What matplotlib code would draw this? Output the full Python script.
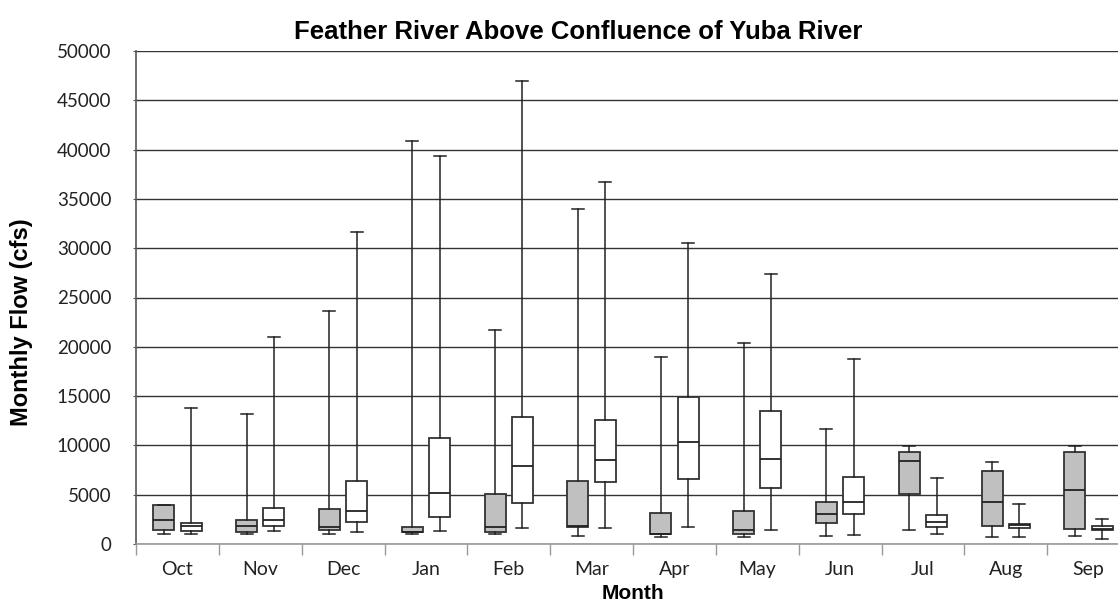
import matplotlib
matplotlib.use("Agg")
import matplotlib.pyplot as plt
from matplotlib.ticker import FixedLocator, NullFormatter

months = ["Oct", "Nov", "Dec", "Jan", "Feb", "Mar", "Apr", "May", "Jun", "Jul", "Aug", "Sep"]

# Series A (grey boxes)
a_min = [980, 980, 980, 980, 980, 840, 740, 740, 840, 1390, 740, 840]
a_q1 = [1420, 1190, 1420, 1190, 1220, 1750, 980, 980, 2100, 5070, 1860, 1550]
a_med = [2460, 1800, 1750, 1250, 1750, 1850, 1050, 1450, 3040, 8390, 4290, 5480]
a_q3 = [3950, 2460, 3520, 1750, 5100, 6390, 3140, 3380, 4290, 9300, 7430, 9300]
a_max = [3950, 13210, 23630, 40900, 21670, 33940, 18990, 20410, 11700, 9970, 8350, 9970]

# Series B (white boxes)
b_min = [980, 1320, 1190, 1320, 1650, 1650, 1750, 1420, 940, 1040, 740, 510]
b_q1 = [1320, 1860, 2200, 2710, 4190, 6290, 6620, 5710, 3010, 1750, 1650, 1390]
b_med = [1830, 2460, 3380, 5200, 7910, 8490, 10310, 8620, 4290, 2260, 1900, 1490]
b_q3 = [2100, 3620, 6420, 10780, 12880, 12540, 14940, 13490, 6820, 2910, 2060, 1860]
b_max = [13800, 21000, 31640, 39380, 46920, 36710, 30490, 27370, 18790, 6720, 4060, 2570]

title = "Feather River Above Confluence of Yuba River"
xlabel = "Month"
ylabel = "Monthly Flow (cfs)"
yticks = list(range(0, 50001, 5000))


def make_stats(mn, q1, med, q3, mx):
    return [dict(whislo=w0, q1=a, med=m, q3=b, whishi=w1, fliers=[])
            for w0, a, m, b, w1 in zip(mn, q1, med, q3, mx)]


W, H = 1118, 605
fig = plt.figure(figsize=(W / 100, H / 100), dpi=100)
ax_l, ax_r, ax_t, ax_b = 136, 1130, 51, 544
ax = fig.add_axes([ax_l / W, (H - ax_b) / H, (ax_r - ax_l) / W, (ax_b - ax_t) / H])

n = len(months)
pos = list(range(1, n + 1))
off = 0.165
bw = 0.253
cw = 0.145

common = dict(widths=bw, capwidths=cw, patch_artist=True, showfliers=False,
              medianprops=dict(color="#222222", lw=1.3),
              whiskerprops=dict(color="#222222", lw=1.1),
              capprops=dict(color="#222222", lw=1.1))

ax.bxp(make_stats(a_min, a_q1, a_med, a_q3, a_max),
       positions=[p - off for p in pos],
       boxprops=dict(facecolor="#C0C0C0", edgecolor="#333333", lw=1.3),
       **common)
ax.bxp(make_stats(b_min, b_q1, b_med, b_q3, b_max),
       positions=[p + off for p in pos],
       boxprops=dict(facecolor="white", edgecolor="#333333", lw=1.3),
       **common)

ax.set_xlim(0.5, n + 0.5)
ax.set_ylim(0, 50000)
ax.set_yticks(yticks)
ax.set_yticklabels([str(v) for v in yticks], fontsize=13.5, family="Lato", color="#222222")
ax.yaxis.grid(True, color="#333333", lw=1.0)
ax.set_axisbelow(True)

ax.xaxis.set_major_locator(FixedLocator(pos))
ax.set_xticklabels(months, fontsize=14, family="Lato", color="#222222")
ax.tick_params(axis="x", which="major", length=0, pad=12)
ax.xaxis.set_minor_locator(FixedLocator([p + 0.5 for p in range(0, n + 1)]))
ax.xaxis.set_minor_formatter(NullFormatter())
ax.tick_params(axis="x", which="minor", length=8, color="#999999", width=1)
ax.tick_params(axis="y", length=2.2, color="#555555", pad=15.5)

for s in ["top", "right"]:
    ax.spines[s].set_visible(False)
ax.spines["left"].set_color("#555555")
ax.spines["left"].set_lw(1.2)
ax.spines["bottom"].set_color("#999999")
ax.spines["bottom"].set_lw(1.2)

ax.set_xlabel(xlabel, fontsize=15, fontweight="bold", family="Liberation Sans", va="baseline")
ax.xaxis.set_label_coords(0.5, -(599 - ax_b) / (ax_b - ax_t))
ax.set_ylabel(ylabel, fontsize=17, fontweight="bold", family="Liberation Sans", va="center")
ax.yaxis.set_label_coords((22 - ax_l) / (ax_r - ax_l), (ax_b - 322) / (ax_b - ax_t))
fig.text(578 / W, 1 - 38.7 / H, title, ha="center", va="baseline",
         fontsize=18.5, fontweight="bold", family="Liberation Sans")

fig.savefig("out.png", dpi=100)
